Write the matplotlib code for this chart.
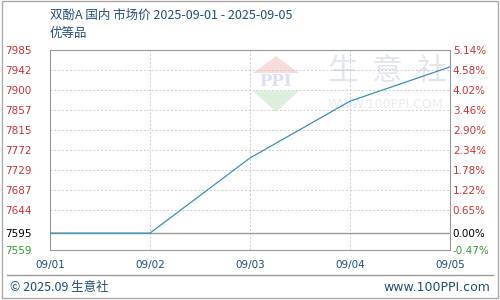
import matplotlib
matplotlib.use('Agg')
import matplotlib.pyplot as plt
from matplotlib.patches import Polygon, Rectangle

plt.rcParams['font.family'] = ['Noto Sans CJK SC', 'DejaVu Sans']

# 数据
dates = ['09/01', '09/02', '09/03', '09/04', '09/05']
prices = [7595, 7595, 7755, 7876, 7949]
base = 7595
y_ticks = [7559, 7595, 7644, 7687, 7729, 7772, 7815, 7857, 7900, 7942, 7985]
pct_labels = ['-0.47%', '0.00%', '0.65%', '1.22%', '1.78%', '2.34%',
              '2.90%', '3.46%', '4.02%', '4.58%', '5.14%']

red = '#cc3333'
green = '#339933'
title_col = '#1f4e79'


def tick_color(v):
    if v > base:
        return red
    if v == base:
        return 'black'
    return green


fig = plt.figure(figsize=(5, 3), dpi=100)
fig.patch.set_facecolor('white')

# 外框 + 页脚分隔线
fig.add_artist(Rectangle((0.004, 0.007), 0.992, 0.99, transform=fig.transFigure,
                         fill=False, edgecolor='#aaaaaa', lw=1))
fig.add_artist(plt.Line2D([0.014, 0.986], [0.083, 0.083], transform=fig.transFigure,
                          color='#999999', lw=1))

ax = fig.add_axes([0.1, 1/6, 0.8, 2/3])
x = list(range(len(dates)))

# 水印 (logo + 文字)
ax.add_patch(Polygon([[2.26, 7972], [2.49, 7936], [2.03, 7936]], closed=True,
                     facecolor='#f8dcdc', edgecolor='none', zorder=0))
ax.add_patch(Polygon([[2.26, 7853], [2.49, 7898], [2.03, 7898]], closed=True,
                     facecolor='#dcefdc', edgecolor='none', zorder=0))
ax.text(2.26, 7917, 'PPI', color='#d9e1f0', fontsize=12, fontweight='bold',
        ha='center', va='center', family='DejaVu Serif', zorder=0)
ax.text(3.37, 7940, '生  意  社', color='#e1e6ec', fontsize=22,
        ha='center', va='center', zorder=0)
ax.text(3.35, 7868, 'WWW.100PPI.COM', color='#e8ecf0', fontsize=9,
        ha='center', va='center', family='DejaVu Sans', zorder=0)

ax.plot(x, prices, color='#3a8fc0', lw=0.9, zorder=3)
ax.axhline(base, color='#999999', lw=1, zorder=2)

ax.set_xlim(0, len(dates) - 1)
ax.set_ylim(y_ticks[0], y_ticks[-1])
ax.set_xticks(x)
ax.set_xticklabels(dates, fontsize=7.5, color=title_col, family='DejaVu Sans')
ax.set_yticks(y_ticks)
ax.set_yticklabels([str(v) for v in y_ticks], fontsize=7.5, family='DejaVu Sans')
ax.tick_params(axis='x', length=0, pad=7)
ax.tick_params(axis='y', length=0, pad=32)
for i, lbl in enumerate(ax.get_yticklabels()):
    lbl.set_horizontalalignment('left')
    lbl.set_color(tick_color(y_ticks[i]))
ax.grid(True, color='#cccccc', linestyle=(0, (2, 2)), lw=0.7)

for s in ax.spines.values():
    s.set_color('#999999')

ax2 = ax.twinx()
ax2.set_ylim(ax.get_ylim())
ax2.set_yticks(y_ticks)
ax2.set_yticklabels(pct_labels, fontsize=7.5, family='DejaVu Sans')
ax2.tick_params(length=0, pad=2)
for i, lbl in enumerate(ax2.get_yticklabels()):
    lbl.set_color(tick_color(y_ticks[i]))
for s in ax2.spines.values():
    s.set_visible(False)

fig.text(0.1, 0.95, '双酚A 国内 市场价 2025-09-01 - 2025-09-05', color=title_col,
         fontsize=9, va='center')
fig.text(0.1, 0.89, '优等品', color=title_col, fontsize=9, va='center')
fig.text(0.02, 0.043, '© 2025.09 生意社', color=title_col, fontsize=9, va='center')
fig.text(0.98, 0.043, 'www.100PPI.com', color=title_col, fontsize=9, va='center',
         ha='right', family='DejaVu Sans')

fig.savefig('out.png', dpi=100)
